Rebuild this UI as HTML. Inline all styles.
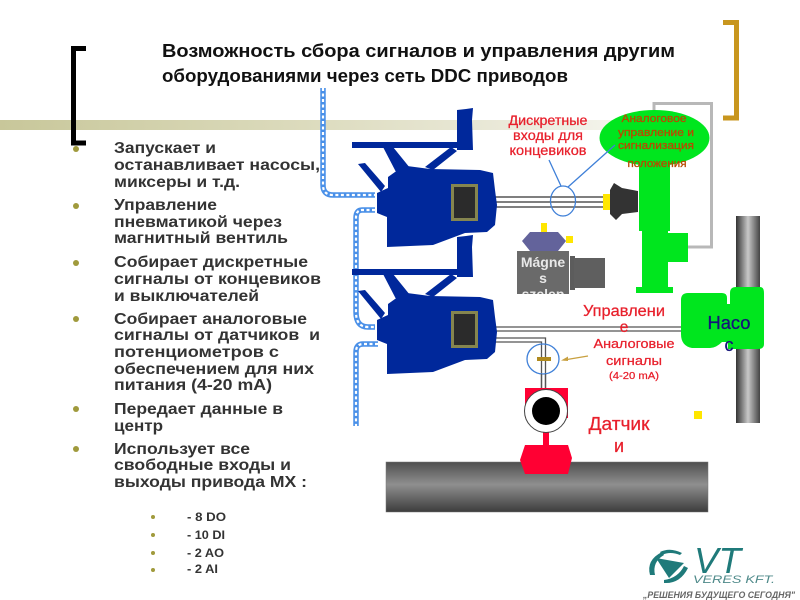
<!DOCTYPE html>
<html><head><meta charset="utf-8"><style>
html,body{margin:0;padding:0;background:#fff}
svg{display:block}
text{font-family:"Liberation Sans",sans-serif}
.b text{font-size:15.500px;font-weight:bold;fill:#333}
.s text{font-size:11.500px;font-weight:bold;fill:#333}
.r{fill:#e8202c;text-anchor:middle;stroke:#e8202c;stroke-width:.25}
.g text{font-size:11px;fill:#b84a00;text-anchor:middle;stroke:#b84a00;stroke-width:.3}
</style></head><body>
<svg width="800" height="600" viewBox="0 0 800 600" xmlns="http://www.w3.org/2000/svg">
<defs>
<linearGradient id="band"><stop offset="0" stop-color="#c8c79a"/><stop offset=".4" stop-color="#dcdbbd"/><stop offset=".7" stop-color="#ecebdd"/><stop offset=".95" stop-color="#fff"/></linearGradient>
<linearGradient id="vp"><stop offset="0" stop-color="#333"/><stop offset=".5" stop-color="#c8c8c8"/><stop offset="1" stop-color="#444"/></linearGradient>
<linearGradient id="hp" x2="0" y2="1"><stop offset="0" stop-color="#4f4f4f"/><stop offset=".45" stop-color="#8f8f8f"/><stop offset="1" stop-color="#3c3c3c"/></linearGradient>
<clipPath id="mag"><rect x="517" y="251" width="52" height="43"/></clipPath>
<g id="act">
<rect x="352" y="142" width="105" height="6" fill="#00289b"/>
<polygon points="457,110 466,109 473,108 472,120 473,150 457,150" fill="#00289b"/>
<polygon points="383,147 393,147 410,168 396,172" fill="#00289b"/>
<polygon points="451,147 457,151 433,170 425,167" fill="#00289b"/>
<polygon points="358,164 365,163 385,186 381,192" fill="#00289b"/>
<polygon points="388,177 395,172 407,166 430,169 480,170 493,173 495,190 497,205 495,225 487,232 465,233 433,245 387,247 387,217 377,213 377,193 388,188" fill="#00289b"/>
<rect x="451" y="184" width="27" height="37" fill="#85854f"/>
<rect x="454" y="187" width="21" height="31" fill="#2b2b2b"/>
</g>
</defs>
<rect width="800" height="600" fill="#fff"/>
<rect x="0" y="120" width="760" height="10" fill="url(#band)"/>

<!-- brackets -->
<path d="M86 48.500H73.500V143H86" fill="none" stroke="#000" stroke-width="5"/>
<path d="M723 22.500H736.500V118H723" fill="none" stroke="#c8961e" stroke-width="5"/>

<!-- title -->
<text x="162" y="57" font-size="18" font-weight="bold" fill="#111" textLength="513" lengthAdjust="spacingAndGlyphs">Возможность сбора сигналов и управления другим</text>
<text x="162" y="82" font-size="18" font-weight="bold" fill="#111" textLength="406" lengthAdjust="spacingAndGlyphs">оборудованиями через сеть DDC приводов</text>

<!-- bullets -->
<g fill="#a09a3c">
<circle cx="76" cy="149" r="3"/><circle cx="76" cy="206" r="3"/><circle cx="76" cy="263" r="3"/><circle cx="76" cy="319" r="3"/><circle cx="76" cy="409" r="3"/><circle cx="76" cy="449" r="3"/>
<circle cx="153" cy="517" r="2"/><circle cx="153" cy="535" r="2"/><circle cx="153" cy="553" r="2"/><circle cx="153" cy="570" r="2"/>
</g>
<g class="b">
<text x="114" y="153" textLength="102" lengthAdjust="spacingAndGlyphs">Запускает и</text>
<text x="114" y="170" textLength="206" lengthAdjust="spacingAndGlyphs">останавливает насосы,</text>
<text x="114" y="187" textLength="126" lengthAdjust="spacingAndGlyphs">миксеры и т.д.</text>
<text x="114" y="210" textLength="103" lengthAdjust="spacingAndGlyphs">Управление</text>
<text x="114" y="227" textLength="168" lengthAdjust="spacingAndGlyphs">пневматикой через</text>
<text x="114" y="243" textLength="174" lengthAdjust="spacingAndGlyphs">магнитный вентиль</text>
<text x="114" y="267" textLength="194" lengthAdjust="spacingAndGlyphs">Собирает дискретные</text>
<text x="114" y="284" textLength="207" lengthAdjust="spacingAndGlyphs">сигналы от концевиков</text>
<text x="114" y="301" textLength="145" lengthAdjust="spacingAndGlyphs">и выключателей</text>
<text x="114" y="324" textLength="193" lengthAdjust="spacingAndGlyphs">Собирает аналоговые</text>
<text x="114" y="340" textLength="206" lengthAdjust="spacingAndGlyphs" xml:space="preserve">сигналы от датчиков  и</text>
<text x="114" y="357" textLength="165" lengthAdjust="spacingAndGlyphs">потенциометров с</text>
<text x="114" y="374" textLength="200" lengthAdjust="spacingAndGlyphs">обеспечением для них</text>
<text x="114" y="390" textLength="158" lengthAdjust="spacingAndGlyphs">питания (4-20 mA)</text>
<text x="114" y="414" textLength="169" lengthAdjust="spacingAndGlyphs">Передает данные в</text>
<text x="114" y="431" textLength="49" lengthAdjust="spacingAndGlyphs">центр</text>
<text x="114" y="454" textLength="136" lengthAdjust="spacingAndGlyphs">Использует все</text>
<text x="114" y="470" textLength="177" lengthAdjust="spacingAndGlyphs">свободные входы и</text>
<text x="114" y="487" textLength="193" lengthAdjust="spacingAndGlyphs">выходы привода MX :</text>
</g>
<g class="s">
<text x="187" y="521" textLength="39" lengthAdjust="spacingAndGlyphs">- 8 DO</text>
<text x="187" y="539" textLength="38" lengthAdjust="spacingAndGlyphs">- 10 DI</text>
<text x="187" y="557" textLength="37" lengthAdjust="spacingAndGlyphs">- 2 AO</text>
<text x="187" y="573" textLength="31" lengthAdjust="spacingAndGlyphs">- 2 AI</text>
</g>

<!-- chains -->
<g fill="none" stroke-linejoin="round">
<g stroke="#4a90e8" stroke-width="5.500">
<path d="M323 88V185Q323 195 333 195H375"/>
<path d="M375 210H362Q356 210 356 218V312Q356 327 368 327H375"/>
<path d="M378 344H363Q356 344 356 352V426"/>
</g>
<g stroke="#fff" stroke-width="2.200" stroke-dasharray="3 2.500">
<path d="M323 88V185Q323 195 333 195H375"/>
<path d="M375 210H362Q356 210 356 218V312Q356 327 368 327H375"/>
<path d="M378 344H363Q356 344 356 352V426"/>
</g>
</g>

<!-- pipes -->
<rect x="736" y="216" width="24" height="207" fill="url(#vp)"/>
<rect x="386" y="462" width="322" height="50" fill="url(#hp)" stroke="#777" stroke-width=".5"/>

<!-- grey loop -->
<path d="M654 112V103.500H711.500V247H686" fill="none" stroke="#b8b8b8" stroke-width="3"/>

<!-- lines from actuators -->
<path d="M478 197H604M478 202H604M478 207H604" stroke="#333" stroke-width="1.200" fill="none"/>
<g fill="none" stroke="#555" stroke-width="1.300">
<path d="M478 327H682M478 331H682"/>
<path d="M478 338H545.500V392M478 342H541.500V392"/>
</g>

<!-- green valve -->
<g fill="#00e61e">
<ellipse cx="654.500" cy="138" rx="55" ry="28"/>
<rect x="639" y="160" width="31" height="71"/>
<rect x="642" y="230" width="26" height="58"/>
<rect x="668" y="233" width="20" height="29"/>
<rect x="636" y="287" width="37" height="6"/>
</g>
<g class="g">
<text x="654" y="122" textLength="65" lengthAdjust="spacingAndGlyphs">Аналоговое</text>
<text x="656" y="136" textLength="76" lengthAdjust="spacingAndGlyphs">управление и</text>
<text x="656" y="149" textLength="76" lengthAdjust="spacingAndGlyphs">сигнализация</text>
<text x="657" y="167" textLength="59" lengthAdjust="spacingAndGlyphs">положения</text>
</g>

<!-- motor -->
<rect x="603" y="194" width="7" height="16" fill="#ffe600"/>
<polygon points="610,190 614,183 622,188 638,191 638,212 622,214 616,220 610,214" fill="#333"/>

<!-- blue callout -->
<g fill="none" stroke="#3f80d8" stroke-width="1.300">
<ellipse cx="563" cy="201" rx="12.500" ry="15"/>
<path d="M549 160L561 186M568 187L615 145"/>
<ellipse cx="543" cy="359" rx="16" ry="15"/>
</g>
<rect x="537" y="357" width="14" height="4" fill="#b08a1e"/>
<path d="M588 356L564 360" stroke="#c8a040" stroke-width="1.200"/>
<path d="M561 360.500L568 356.500L568 361Z" fill="#c8a040"/>

<!-- magnetic valve -->
<rect x="541" y="223" width="6" height="9" fill="#ffe600"/>
<rect x="566" y="236" width="7" height="7" fill="#ffe600"/>
<polygon points="530,232 558,232 566,241 558,251 530,251 522,241" fill="#63639b"/>
<rect x="517" y="251" width="52" height="43" fill="#6a6a6a"/>
<rect x="570" y="256" width="5" height="34" fill="#5c5c5c"/>
<rect x="574" y="258" width="31" height="30" fill="#5f5f5f"/>
<g clip-path="url(#mag)" font-size="14" font-weight="bold" fill="#e8e8e8" text-anchor="middle">
<text x="543" y="267">Mágne</text>
<text x="543" y="283">s</text>
<text x="543" y="299">szelep</text>
</g>

<!-- actuators -->
<use href="#act"/>
<use href="#act" transform="translate(0,127)"/>

<!-- pump -->
<path d="M688 293H722Q727 293 727 298V304H730V293Q730 287 736 287H760Q764 287 764 293V344Q764 349 758 349H728V342H722Q716 348 710 348H692Q681 346 681 334V300Q681 293 688 293Z" fill="#00e61e"/>
<text x="729" y="329" font-size="18" fill="#15157a" stroke="#15157a" stroke-width=".3" text-anchor="middle" textLength="43" lengthAdjust="spacingAndGlyphs">Насо</text>
<text x="729" y="351" font-size="18" fill="#15157a" stroke="#15157a" stroke-width=".3" text-anchor="middle">с</text>

<!-- sensor -->
<rect x="525" y="388" width="43" height="30" fill="#ff0033"/>
<rect x="543" y="430" width="6" height="16" fill="#ff0033"/>
<polygon points="525,445 568,445 572,458 568,474 525,474 520,460" fill="#ff0033"/>
<circle cx="546" cy="411" r="21.500" fill="#fff" stroke="#444" stroke-width="1"/>
<circle cx="546" cy="411" r="14" fill="#000"/>
<path d="M541.500 374V388M545.500 374V388" stroke="#555" stroke-width="1.300"/>

<!-- yellow square -->
<rect x="694" y="411" width="8" height="8" fill="#ffe600"/>

<!-- red labels -->
<g class="r" font-size="13.500">
<text x="548" y="125" textLength="79" lengthAdjust="spacingAndGlyphs">Дискретные</text>
<text x="548" y="140" textLength="70" lengthAdjust="spacingAndGlyphs">входы для</text>
<text x="548" y="155" textLength="77" lengthAdjust="spacingAndGlyphs">концевиков</text>
</g>
<text class="r" x="624" y="316" font-size="15.500" textLength="82" lengthAdjust="spacingAndGlyphs">Управлени</text>
<text class="r" x="624" y="332" font-size="15.500">е</text>
<g class="r" font-size="12.500">
<text x="634" y="348" textLength="81" lengthAdjust="spacingAndGlyphs">Аналоговые</text>
<text x="634" y="365" textLength="56" lengthAdjust="spacingAndGlyphs">сигналы</text>
</g>
<text class="r" x="634" y="379" font-size="10.500" textLength="50" lengthAdjust="spacingAndGlyphs">(4-20 mA)</text>
<text class="r" x="619" y="430" font-size="18" textLength="61" lengthAdjust="spacingAndGlyphs">Датчик</text>
<text class="r" x="619" y="452" font-size="18">и</text>

<!-- logo -->
<g fill="#1f7a7a">
<polygon points="656,558 684,563 669,578"/>
<path d="M650 575Q646 560 662 552L664 555Q652 562 655 575Z"/>
<path d="M664 583Q680 584 688 568L684 566Q678 578 664 580Z"/>
<path d="M660 552Q670 547 682 553L680 555Q670 551 662 555Z"/>
</g>
<text x="694" y="573" font-size="36" font-style="italic" fill="#1f7a7a" textLength="47" lengthAdjust="spacingAndGlyphs">VT</text>
<text x="693" y="583" font-size="11" font-style="italic" fill="#4f8a8a" textLength="82" lengthAdjust="spacingAndGlyphs">VERES KFT.</text>
<text x="643" y="598" font-size="9.500" font-weight="bold" font-style="italic" fill="#666" textLength="152" lengthAdjust="spacingAndGlyphs">„РЕШЕНИЯ БУДУЩЕГО СЕГОДНЯ"</text>
</svg>
</body></html>
